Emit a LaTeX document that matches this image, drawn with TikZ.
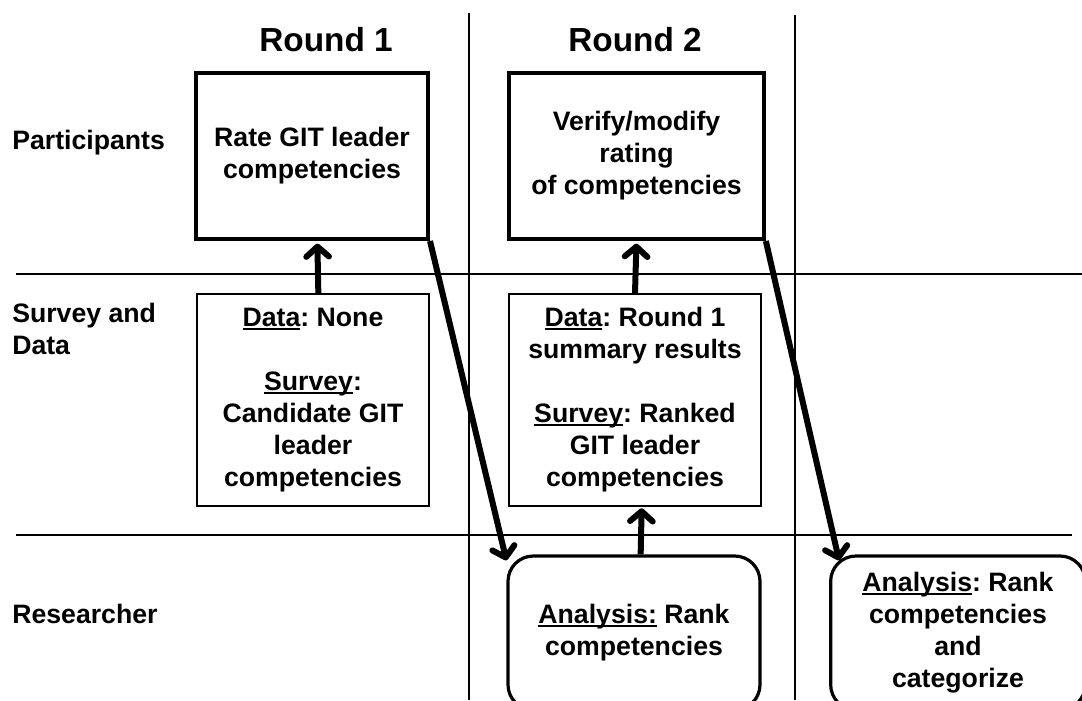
\documentclass[tikz,border=0pt]{standalone}
\usepackage{fontspec}
\setmainfont{Liberation Sans}
\usetikzlibrary{arrows.meta}
\frenchspacing

% heavy underline close to the baseline
\newcommand\undl[1]{\setbox0\hbox{#1}\rlap{\rule[-2.4pt]{\wd0}{1.4pt}}\box0\relax}

\tikzset{
  boxfont/.style={font=\fontsize{20}{24}\selectfont\bfseries, align=center},
  taskbox/.style={boxfont, draw, line width=3pt, inner sep=0pt},
  databox/.style={boxfont, draw, line width=1.4pt, inner sep=0pt},
  workbox/.style={boxfont, draw, line width=2.4pt, rounded corners=19pt, inner sep=0pt},
  rowlabel/.style={font=\fontsize{20}{24}\selectfont\bfseries, align=left, anchor=west, inner sep=0pt},
  roundtitle/.style={font=\fontsize{25}{30}\selectfont\bfseries, inner sep=0pt},
  gridline/.style={line width=1.4pt},
  flow/.style={line width=4.5pt, -{Straight Barb[length=7.5pt,width=17pt,round]}}
}

\begin{document}
\begin{tikzpicture}[x=0.75pt,y=-0.75pt]
\useasboundingbox (0,0) rectangle (1082,700);
\clip (0,0) rectangle (1082,700);

% lane separators
\draw[gridline] (469,13) -- (469,700);
\draw[gridline] (795,15) -- (795,700);
\draw[gridline] (16,274) -- (1082,274);
\draw[gridline] (16,535) -- (1072,535);

% column titles
\node[roundtitle] (t1) at (326,40) {Round 1};
\node[roundtitle] (t2) at (635,40) {Round 2};

% row labels
\node[rowlabel] (lp) at (12,143) {Participants};
\node[rowlabel] (ls) at (12,329) {Survey and\\Data};
\node[rowlabel] (lr) at (12,614) {Researcher};

% participant tasks
\node[taskbox, minimum width=174pt, minimum height=124.5pt] (r1) at (312,156)
  {Rate GIT leader\\competencies};
\node[taskbox, minimum width=191pt, minimum height=124.5pt] (r2) at (636.5,156)
  {Verify/modify\\rating\\of competencies};

% survey and data
\node[databox, minimum width=174pt, minimum height=159pt] (d1) at (313,400)
  {\undl{Data}: None\\[24pt]\undl{Survey}:\\Candidate GIT\\leader\\competencies};
\node[databox, minimum width=189pt, minimum height=159pt] (d2) at (635,400)
  {\undl{Data}: Round 1\\summary results\\[24pt]\undl{Survey}: Ranked\\GIT leader\\competencies};

% researcher analysis
\node[workbox, minimum width=189pt, minimum height=115.5pt] (a1) at (634,633)
  {\undl{Analysis:} Rank\\competencies};
\node[workbox, minimum width=191pt, minimum height=115.5pt] (a2) at (958,633)
  {\undl{Analysis}: Rank\\competencies\\and\\categorize};

% flow of the rounds
\draw[flow, shorten >=2pt] ([xshift=4]d1.north) -- ([xshift=4]r1.south);
\draw[flow, shorten >=2pt] (d2.north) -- (r2.south);
\draw[flow, shorten >=1pt] ([xshift=5]a1.north) -- ([xshift=5]d2.south);
\draw[flow] (r1.south east) -- ([shift={(0,6)}]a1.north west);
\draw[flow] (r2.south east) -- ([shift={(10,6)}]a2.north west);
\end{tikzpicture}
\end{document}
